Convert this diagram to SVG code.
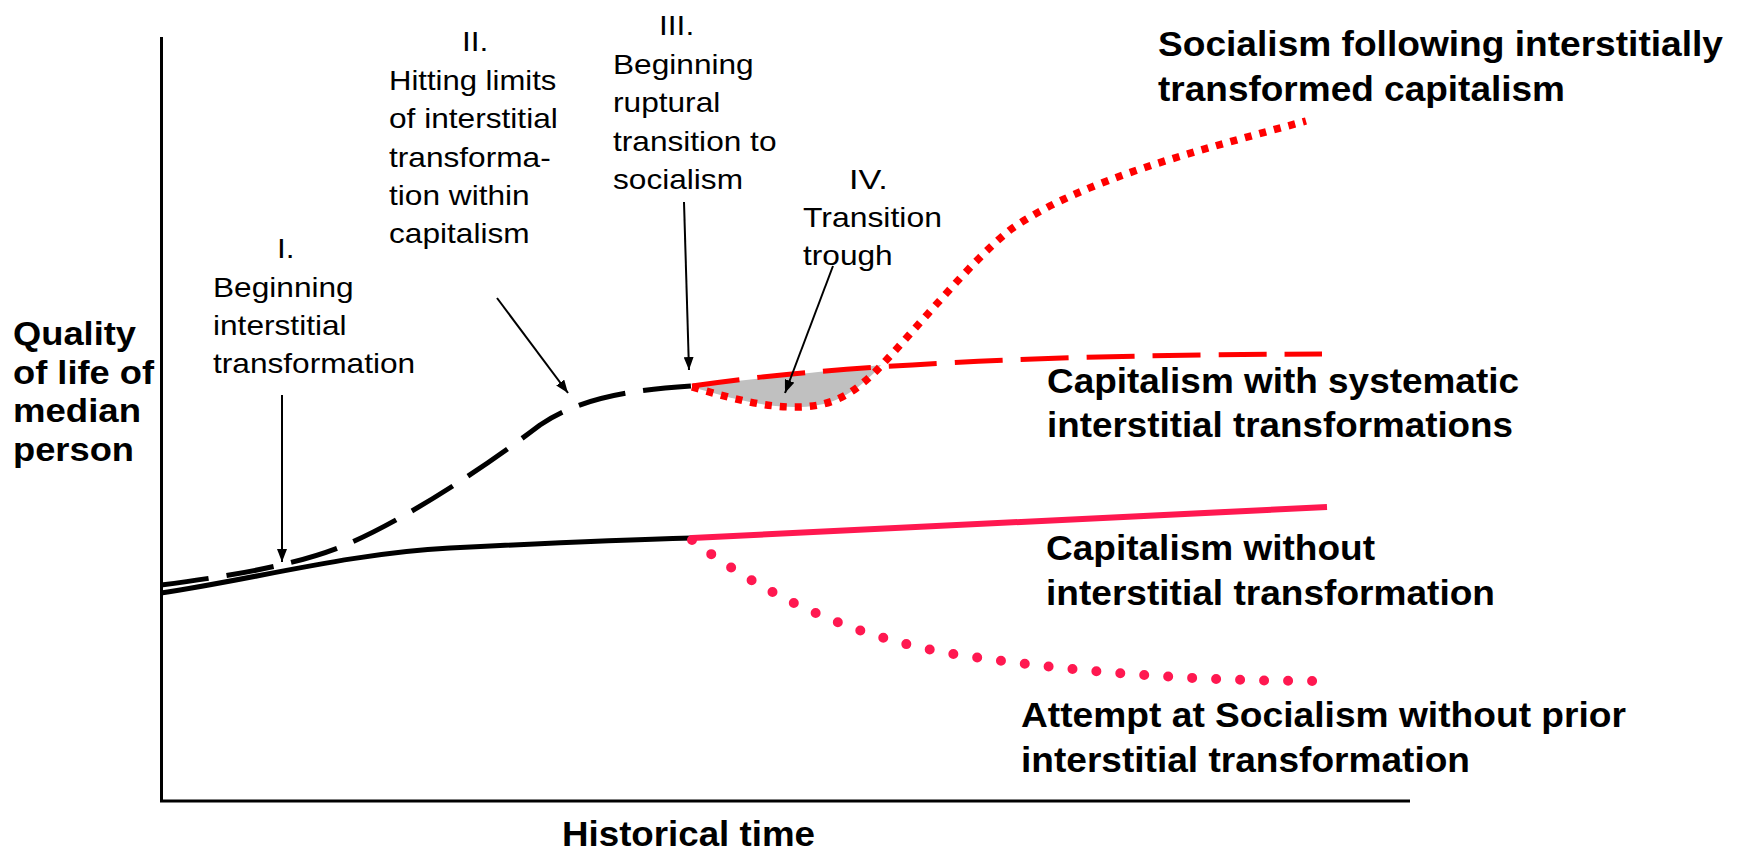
<svg xmlns="http://www.w3.org/2000/svg" width="1744" height="853" viewBox="0 0 1744 853">
<style>
.reg{font-family:"Liberation Sans",Arial,sans-serif;font-size:28.5px;fill:#000}
.bl{font-family:"Liberation Sans",Arial,sans-serif;font-weight:bold;font-size:35px;fill:#000}
.yl{font-size:33px}
.ax{stroke:#000;stroke-width:3;fill:none}
.arr{stroke:#000;stroke-width:2;fill:none;marker-end:url(#ah)}
.blk{stroke:#000;stroke-width:5;fill:none}
.blkd{stroke:#000;stroke-width:5;fill:none;stroke-dasharray:48 18}
.rdash{stroke:#FF0000;stroke-width:5;fill:none;stroke-dasharray:48 18}
.rdot{stroke:#FF0000;stroke-width:7.5;fill:none;stroke-dasharray:7 8}
.pk{stroke:#FF1850;stroke-width:6;fill:none}
.pkdot{stroke:#FF1850;stroke-width:10;fill:none;stroke-linecap:round;stroke-dasharray:0 24}
</style>
<defs>
<marker id="ah" markerUnits="userSpaceOnUse" markerWidth="13" markerHeight="10" refX="13" refY="5" orient="auto">
<path d="M0,0 L13,5 L0,10 Z" fill="#000"/>
</marker>
</defs>
<rect width="1744" height="853" fill="#fff"/>
<g id="axes">
<line class="ax" x1="161.5" y1="37" x2="161.5" y2="802"/>
<line class="ax" x1="160" y1="801" x2="1410" y2="801"/>
</g>
<g id="curves">
<path d="M692,386 L881,365 L877,370 C855,392 835,406 800,407 C765,408 730,398 692,387 Z" fill="#C0C0C0"/>
<path class="blk" d="M161,593 C250,580 350,553 450,548 C550,543 620,540 692,538"/>
<path class="blkd" d="M161,585 C230,576 300,565 350,543 C400,521 470,478 540,425 C580,398 630,390 692,386"/>
<path class="rdash" d="M692,386 Q900,355 1322,354"/>
<path class="rdot" d="M692,387 C730,398 765,408 800,407 C835,406 855,392 877,370 C920,325 970,262 1010,230 C1080,180 1200,150 1306,121"/>
<path class="pk" d="M692,538 L1327,507"/>
<path class="pkdot" d="M692,540 C760,592 850,638 960,655 C1080,673 1200,681 1320,681"/>
</g>
<g id="connectors">
<line class="arr" x1="282" y1="395" x2="282" y2="562"/>
<line class="arr" x1="497" y1="298" x2="568" y2="393"/>
<line class="arr" x1="684" y1="202" x2="689" y2="370"/>
<line class="arr" x1="833" y1="266" x2="785" y2="393"/>
</g>
<g id="y-label">
<text class="bl yl" x="13" y="345" textLength="123" lengthAdjust="spacingAndGlyphs">Quality</text>
<text class="bl yl" x="13" y="384" textLength="141" lengthAdjust="spacingAndGlyphs">of life of</text>
<text class="bl yl" x="13" y="422" textLength="128" lengthAdjust="spacingAndGlyphs">median</text>
<text class="bl yl" x="13" y="461" textLength="121" lengthAdjust="spacingAndGlyphs">person</text>
</g>
<g id="x-label">
<text class="bl" x="562" y="846" textLength="253" lengthAdjust="spacingAndGlyphs">Historical time</text>
</g>
<g id="stage-1">
<text class="reg" x="277" y="258" textLength="17.6" lengthAdjust="spacingAndGlyphs">I.</text>
<text class="reg" x="213" y="297" textLength="140.7" lengthAdjust="spacingAndGlyphs">Beginning</text>
<text class="reg" x="213" y="335" textLength="133.6" lengthAdjust="spacingAndGlyphs">interstitial</text>
<text class="reg" x="213" y="373" textLength="202.2" lengthAdjust="spacingAndGlyphs">transformation</text>
</g>
<g id="stage-2">
<text class="reg" x="462" y="51" textLength="26.4" lengthAdjust="spacingAndGlyphs">II.</text>
<text class="reg" x="389" y="90" textLength="167.3" lengthAdjust="spacingAndGlyphs">Hitting limits</text>
<text class="reg" x="389" y="128" textLength="168.8" lengthAdjust="spacingAndGlyphs">of interstitial</text>
<text class="reg" x="389" y="167" textLength="161.7" lengthAdjust="spacingAndGlyphs">transforma-</text>
<text class="reg" x="389" y="205" textLength="140.7" lengthAdjust="spacingAndGlyphs">tion within</text>
<text class="reg" x="389" y="243" textLength="140.6" lengthAdjust="spacingAndGlyphs">capitalism</text>
</g>
<g id="stage-3">
<text class="reg" x="659" y="35" textLength="35.2" lengthAdjust="spacingAndGlyphs">III.</text>
<text class="reg" x="613" y="73.5" textLength="140.7" lengthAdjust="spacingAndGlyphs">Beginning</text>
<text class="reg" x="613" y="112" textLength="107.3" lengthAdjust="spacingAndGlyphs">ruptural</text>
<text class="reg" x="613" y="150.5" textLength="163.5" lengthAdjust="spacingAndGlyphs">transition to</text>
<text class="reg" x="613" y="189" textLength="130" lengthAdjust="spacingAndGlyphs">socialism</text>
</g>
<g id="stage-4">
<text class="reg" x="849" y="189" textLength="38.7" lengthAdjust="spacingAndGlyphs">IV.</text>
<text class="reg" x="803" y="227" textLength="138.9" lengthAdjust="spacingAndGlyphs">Transition</text>
<text class="reg" x="803" y="265" textLength="89.7" lengthAdjust="spacingAndGlyphs">trough</text>
</g>
<g id="label-socialism-following">
<text class="bl" x="1158" y="56" textLength="565" lengthAdjust="spacingAndGlyphs">Socialism following interstitially</text>
<text class="bl" x="1158" y="101" textLength="407" lengthAdjust="spacingAndGlyphs">transformed capitalism</text>
</g>
<g id="label-capitalism-systematic">
<text class="bl" x="1047" y="393" textLength="472" lengthAdjust="spacingAndGlyphs">Capitalism with systematic</text>
<text class="bl" x="1047" y="437" textLength="466" lengthAdjust="spacingAndGlyphs">interstitial transformations</text>
</g>
<g id="label-capitalism-without">
<text class="bl" x="1046" y="560" textLength="329" lengthAdjust="spacingAndGlyphs">Capitalism without</text>
<text class="bl" x="1046" y="605" textLength="449" lengthAdjust="spacingAndGlyphs">interstitial transformation</text>
</g>
<g id="label-attempt">
<text class="bl" x="1021" y="727" textLength="605" lengthAdjust="spacingAndGlyphs">Attempt at Socialism without prior</text>
<text class="bl" x="1021" y="772" textLength="449" lengthAdjust="spacingAndGlyphs">interstitial transformation</text>
</g>
</svg>
